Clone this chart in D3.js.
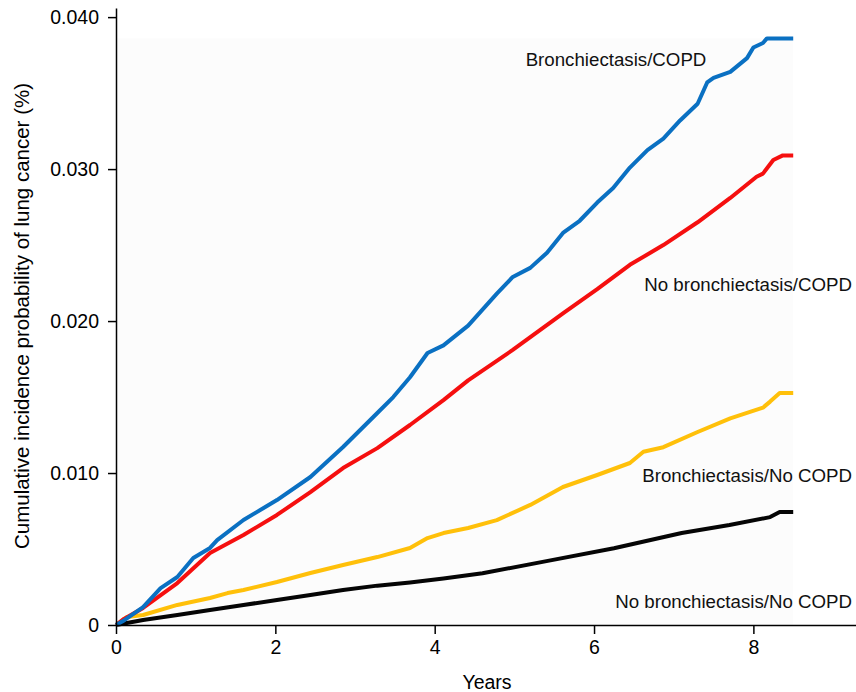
<!DOCTYPE html>
<html>
<head>
<meta charset="utf-8">
<script src="https://cdn.jsdelivr.net/npm/d3@7"></script>
<style>
  html, body { margin: 0; padding: 0; background: #fff; }
  svg { display: block; font-family: "Liberation Sans", Arial, Helvetica, sans-serif; }
</style>
</head>
<body>
<svg id="chart" width="856" height="692"></svg>
<script>
// ---- Data ----
const seriesNames = ["Bronchiectasis/COPD", "No bronchiectasis/COPD", "Bronchiectasis/No COPD", "No bronchiectasis/No COPD"];

const blueYears  = [0, 0.1, 0.34, 0.56, 0.77, 0.97, 1.18, 1.27, 1.60, 2.02, 2.44, 2.85, 3.28, 3.48, 3.69, 3.91, 4.11, 4.42, 4.78, 4.98, 5.20, 5.41, 5.61, 5.82, 6.04, 6.24, 6.45, 6.67, 6.87, 7.08, 7.30, 7.42, 7.50, 7.71, 7.92, 8.00, 8.12, 8.17, 8.50];
const blueValues = [0, 0.0003, 0.00118, 0.00243, 0.00316, 0.00441, 0.00507, 0.00559, 0.00691, 0.00822, 0.00974, 0.01171, 0.01395, 0.0150, 0.0163, 0.0179, 0.0184, 0.0197, 0.0218, 0.0229, 0.0235, 0.0245, 0.0258, 0.0266, 0.0278, 0.02875, 0.0301, 0.03125, 0.0320, 0.0332, 0.0343, 0.0357, 0.0360, 0.0364, 0.0373, 0.0380, 0.0383, 0.0386, 0.0386];

const redYears  = [0, 0.1, 0.34, 0.77, 1.18, 1.60, 2.02, 2.44, 2.85, 3.28, 3.69, 4.11, 4.42, 4.98, 5.61, 6.04, 6.45, 6.87, 7.30, 7.71, 8.04, 8.12, 8.25, 8.37, 8.50];
const redValues = [0, 0.0004, 0.00112, 0.00276, 0.00474, 0.00592, 0.00724, 0.00875, 0.01033, 0.01164, 0.01316, 0.0148, 0.0161, 0.0181, 0.0205, 0.0221, 0.0237, 0.0250, 0.0265, 0.0281, 0.0295, 0.0297, 0.0306, 0.0309, 0.0309];

const yellowYears  = [0, 0.14, 0.34, 0.77, 1.18, 1.40, 1.60, 2.02, 2.44, 2.85, 3.28, 3.69, 3.91, 4.11, 4.42, 4.78, 5.20, 5.61, 6.04, 6.45, 6.62, 6.87, 7.30, 7.71, 8.12, 8.21, 8.33, 8.50];
const yellowValues = [0, 0.00053, 0.00066, 0.00132, 0.00178, 0.0021, 0.0023, 0.00283, 0.00342, 0.00395, 0.00447, 0.00507, 0.00572, 0.00605, 0.00638, 0.0069, 0.0079, 0.00908, 0.00987, 0.01066, 0.0114, 0.0117, 0.0127, 0.0136, 0.0143, 0.0147, 0.01526, 0.01526];

const blackYears  = [0, 0.34, 0.77, 1.18, 1.60, 2.02, 2.44, 2.85, 3.28, 3.69, 4.11, 4.60, 5.42, 6.25, 7.10, 7.70, 8.21, 8.33, 8.50];
const blackValues = [0, 0.00033, 0.00066, 0.00099, 0.00132, 0.00164, 0.00197, 0.0023, 0.00259, 0.0028, 0.00306, 0.0034, 0.00422, 0.00505, 0.00605, 0.00658, 0.0071, 0.00743, 0.00743];

const xTicks = [0, 2, 4, 6, 8];
const yTicks = [0, 0.010, 0.020, 0.030, 0.040];
const yTickLabels = ["0", "0.010", "0.020", "0.030", "0.040"];

// ---- Layout ----
const svg = d3.select("#chart");
const x = d3.scaleLinear().domain([0, 9.288]).range([116, 856]);
const y = d3.scaleLinear().domain([0, 0.0406]).range([625, 8]);

const series = [
  { name: seriesNames[3], xs: blackYears,  ys: blackValues,  color: "#050505" },
  { name: seriesNames[2], xs: yellowYears, ys: yellowValues, color: "#ffc00a" },
  { name: seriesNames[1], xs: redYears,    ys: redValues,    color: "#f50f0f" },
  { name: seriesNames[0], xs: blueYears,   ys: blueValues,   color: "#0a70c2" }
];

// faint plot background
const maxX = d3.max(series, s => d3.max(s.xs));
const maxY = d3.max(series, s => d3.max(s.ys));
svg.append("rect")
  .attr("x", x(0)).attr("y", y(maxY))
  .attr("width", x(maxX) - x(0)).attr("height", y(0) - y(maxY))
  .attr("fill", "#fcfcfc");

// lines
const line = d3.line().x(d => x(d[0])).y(d => y(d[1])).curve(d3.curveLinear);
series.forEach(s => {
  const pts = s.xs.map((t, i) => [t, s.ys[i]]);
  svg.append("path")
    .datum(pts)
    .attr("d", line)
    .attr("fill", "none")
    .attr("stroke", s.color)
    .attr("stroke-width", 4)
    .attr("stroke-linejoin", "round");
});

// axes
const xAxis = d3.axisBottom(x).tickValues(xTicks).tickSize(9).tickPadding(6).tickSizeOuter(0);
const gx = svg.append("g").attr("transform", `translate(0,${y(0)})`).call(xAxis);
gx.select(".domain").attr("stroke", "#000").attr("stroke-width", 1.5);
gx.selectAll(".tick line").attr("stroke", "#000").attr("stroke-width", 1.5);
gx.selectAll(".tick text").attr("font-size", 19.5).attr("fill", "#000").attr("font-family", "Liberation Sans, Arial, sans-serif");

const yAxis = d3.axisLeft(y).tickValues(yTicks).tickFormat((d, i) => yTickLabels[i]).tickSize(8).tickPadding(9).tickSizeOuter(0);
const gy = svg.append("g").attr("transform", `translate(${x(0)},0)`).call(yAxis);
gy.select(".domain").attr("stroke", "#000").attr("stroke-width", 1.5);
gy.selectAll(".tick line").attr("stroke", "#000").attr("stroke-width", 1.5);
gy.selectAll(".tick text").attr("font-size", 19.5).attr("fill", "#000").attr("font-family", "Liberation Sans, Arial, sans-serif");

// axis titles
svg.append("text")
  .attr("x", 487).attr("y", 689)
  .attr("text-anchor", "middle")
  .attr("font-size", 19.5)
  .text("Years");

svg.append("text")
  .attr("transform", "translate(29,316) rotate(-90)")
  .attr("text-anchor", "middle")
  .attr("font-size", 20.5)
  .text("Cumulative incidence probability of lung cancer (%)");

// series labels
const labels = [
  { text: seriesNames[0], x: 616, y: 66, anchor: "middle" },
  { text: seriesNames[1], x: 852, y: 291, anchor: "end" },
  { text: seriesNames[2], x: 852, y: 482, anchor: "end" },
  { text: seriesNames[3], x: 852, y: 608, anchor: "end" }
];
labels.forEach(l => {
  svg.append("text")
    .attr("x", l.x).attr("y", l.y)
    .attr("text-anchor", l.anchor)
    .attr("font-size", 18.7)
    .attr("fill", "#111")
    .text(l.text);
});
</script>
</body>
</html>
